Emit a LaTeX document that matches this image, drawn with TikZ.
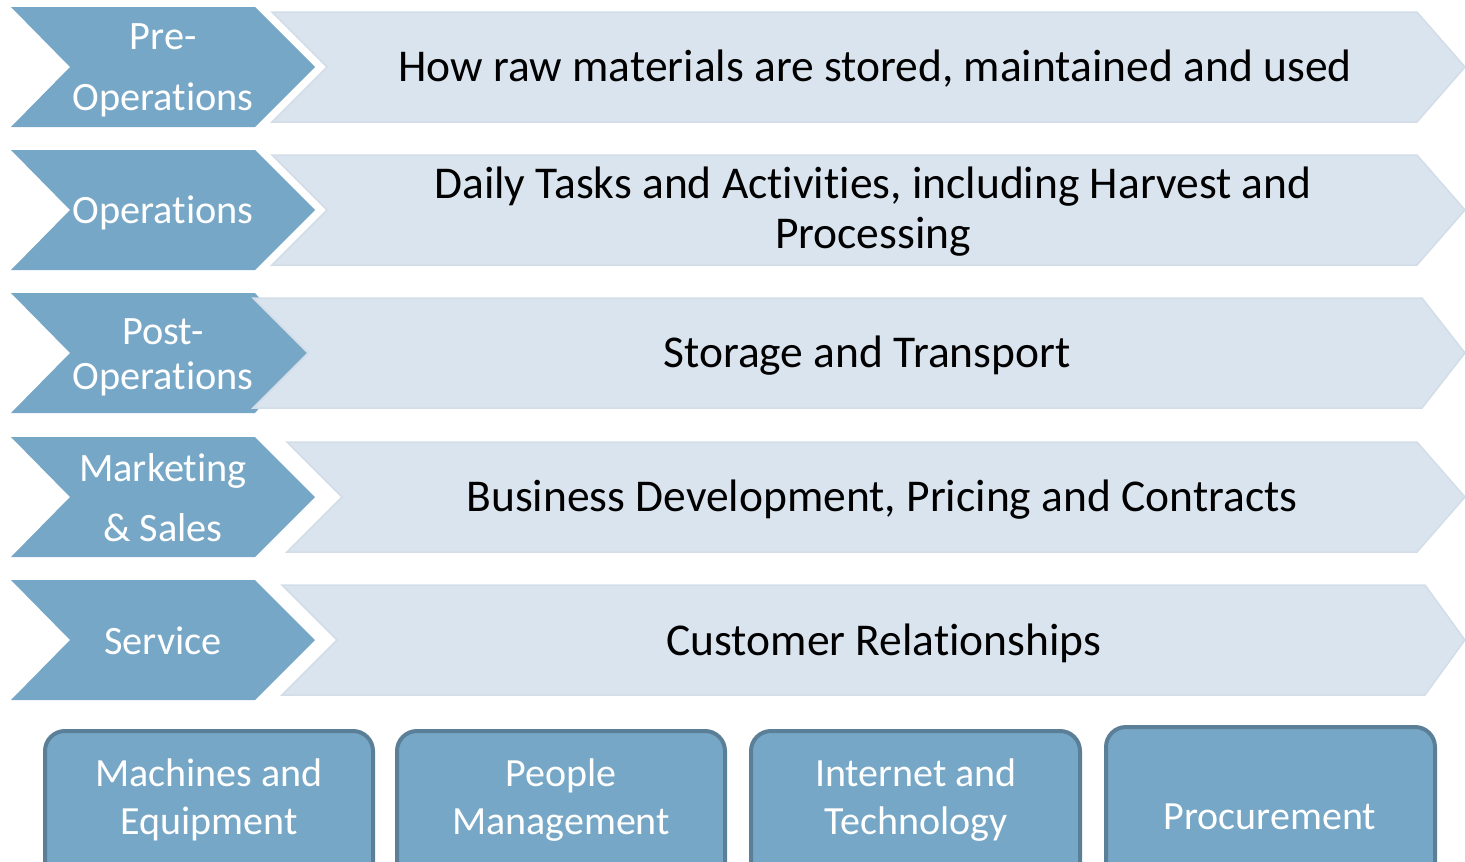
\documentclass[tikz,border=0pt]{standalone}
\usepackage{fontspec}
\setmainfont{Carlito}[Ligatures={NoCommon}]
\definecolor{darkb}{HTML}{77A7C6}
\definecolor{lightb}{HTML}{DAE4EE}
\definecolor{lightedge}{HTML}{D2DDE8}
\definecolor{boxedge}{HTML}{5B7F97}
\tikzset{
  darkchev/.style={fill=darkb},
  lightchev/.style={fill=lightb, draw=lightedge, line width=1.5pt},
  darklabel/.style={text=white, inner sep=0pt, align=center},
  lightlabel/.style={text=black, inner sep=0pt, align=center, font=\fontsize{45.5}{50}\selectfont},
  bottombox/.style={fill=darkb, draw=boxedge, line width=4pt, rounded corners=20pt},
  boxlabel/.style={text=white, inner sep=0pt, align=center, font=\fontsize{40}{48}\selectfont},
}
\newcommand\MyRow[4]{% #1 top y, #2 dark tip x, #3 light left x, #4 light right x
  \fill[darkchev] (11,#1) -- (255,#1) -- (#2,#1+60) -- (255,#1+120) -- (11,#1+120) -- (70,#1+60) -- cycle;
  \path[lightchev] (#3,#1+5) -- (#4,#1+5) -- (1465,#1+60) -- (#4,#1+115) -- (#3,#1+115) -- (#3+55,#1+60) -- cycle;
}
\begin{document}
\begin{tikzpicture}[x=1pt,y=-1pt]
\useasboundingbox (0,0) rectangle (1465,862);
\clip (0,0) rectangle (1465,862);

\MyRow{7}{315}{272}{1417}
\MyRow{150}{315}{272}{1417}
\MyRow{293}{308}{253}{1422}
\MyRow{437}{315}{287}{1417}
\MyRow{580}{315}{282}{1425}

% dark labels
\node[darklabel, font=\fontsize{40.3}{61}\selectfont] (d1) at (163,70) {Pre-\\Operations};
\node[darklabel, font=\fontsize{40.3}{48}\selectfont] (d2) at (163,213) {Operations};
\node[darklabel, font=\fontsize{40.3}{45}\selectfont] (d3) at (163,357) {Post-\\Operations};
\node[darklabel, font=\fontsize{40.3}{60}\selectfont] (d4) at (163,498) {Marketing\\\& Sales};
\node[darklabel, font=\fontsize{40.3}{48}\selectfont] (d5) at (163,641) {Service};

% light labels
\node[lightlabel] (l1) at (875,69) {How raw materials are stored, maintained and used};
\node[lightlabel] (l2) at (873,212) {Daily Tasks and Activities, including Harvest and\\Processing};
\node[lightlabel] (l3) at (867,356) {Storage and Transport};
\node[lightlabel] (l4) at (882,500) {Business Development, Pricing and Contracts};
\node[lightlabel] (l5) at (884,643) {Customer Relationships};

% bottom boxes
\path[bottombox] (45,731) rectangle (373,905);
\path[bottombox] (397,731) rectangle (725,905);
\path[bottombox] (751,731) rectangle (1080,905);
\path[bottombox] (1106,727) rectangle (1435,905);

\node[boxlabel] (b1) at (209,800) {Machines and\\Equipment};
\node[boxlabel] (b2) at (561,800) {People\\Management};
\node[boxlabel] (b3) at (916,800) {Internet and\\Technology};
\node[boxlabel] (b4) at (1270,817) {Procurement};
\end{tikzpicture}
\end{document}
